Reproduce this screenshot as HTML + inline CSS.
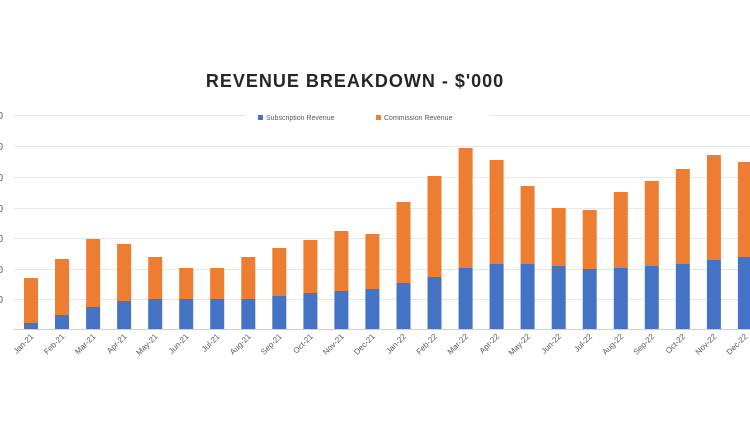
<!DOCTYPE html><html><head><style>body{margin:0;background:#fff}svg{display:block;font-family:"Liberation Sans",sans-serif}</style></head><body>
<svg width="750" height="430" xmlns="http://www.w3.org/2000/svg">
<rect width="750" height="430" fill="#fff"/>
<text x="355" y="87" text-anchor="middle" font-size="18" font-weight="bold" fill="#262626" letter-spacing="1">REVENUE BREAKDOWN - $'000</text>
<g stroke="#e6e6e6" stroke-width="1">
<line x1="14" x2="245" y1="115.5" y2="115.5"/><line x1="490" x2="750" y1="115.5" y2="115.5"/>
<line x1="14" x2="750" y1="146.5" y2="146.5"/><line x1="14" x2="750" y1="177.5" y2="177.5"/>
<line x1="14" x2="750" y1="208.5" y2="208.5"/><line x1="14" x2="750" y1="238.5" y2="238.5"/>
<line x1="14" x2="750" y1="269.5" y2="269.5"/><line x1="14" x2="750" y1="299.5" y2="299.5"/>
<line x1="14" x2="750" y1="329.5" y2="329.5" stroke="#d0d0d0"/>
</g>
<g font-size="10" fill="#595959" text-anchor="end">
<text x="3" y="119">0</text><text x="3" y="150">0</text><text x="3" y="181">0</text><text x="3" y="212">0</text><text x="3" y="242">0</text><text x="3" y="273">0</text><text x="3" y="303">0</text>
</g>
<rect x="258" y="115" width="5" height="5" fill="#4472c4"/><text x="266" y="120" font-size="7" fill="#595959">Subscription Revenue</text>
<rect x="376" y="115" width="5" height="5" fill="#ed7d31"/><text x="384" y="120" font-size="7" fill="#595959">Commission Revenue</text>
<g fill="#ed7d31">
<rect x="24" y="278" width="14" height="45"/>
<rect x="55" y="259" width="14" height="56"/>
<rect x="86.1" y="239" width="14" height="68"/>
<rect x="117.1" y="244" width="14" height="57"/>
<rect x="148.2" y="257" width="14" height="42"/>
<rect x="179.2" y="268" width="14" height="31"/>
<rect x="210.2" y="268" width="14" height="31"/>
<rect x="241.3" y="257" width="14" height="42"/>
<rect x="272.3" y="248" width="14" height="48"/>
<rect x="303.4" y="240" width="14" height="53"/>
<rect x="334.4" y="231" width="14" height="60"/>
<rect x="365.4" y="234" width="14" height="55"/>
<rect x="396.5" y="202" width="14" height="81"/>
<rect x="427.5" y="176" width="14" height="101"/>
<rect x="458.6" y="148" width="14" height="120"/>
<rect x="489.6" y="160" width="14" height="104"/>
<rect x="520.6" y="186" width="14" height="78"/>
<rect x="551.7" y="208" width="14" height="58"/>
<rect x="582.7" y="210" width="14" height="59"/>
<rect x="613.8" y="192" width="14" height="76"/>
<rect x="644.8" y="181" width="14" height="85"/>
<rect x="675.8" y="169" width="14" height="95"/>
<rect x="706.9" y="155" width="14" height="105"/>
<rect x="737.9" y="162" width="14" height="95"/>
</g>
<g fill="#4472c4">
<rect x="24" y="323" width="14" height="6"/>
<rect x="55" y="315" width="14" height="14"/>
<rect x="86.1" y="307" width="14" height="22"/>
<rect x="117.1" y="301" width="14" height="28"/>
<rect x="148.2" y="299" width="14" height="30"/>
<rect x="179.2" y="299" width="14" height="30"/>
<rect x="210.2" y="299" width="14" height="30"/>
<rect x="241.3" y="299" width="14" height="30"/>
<rect x="272.3" y="296" width="14" height="33"/>
<rect x="303.4" y="293" width="14" height="36"/>
<rect x="334.4" y="291" width="14" height="38"/>
<rect x="365.4" y="289" width="14" height="40"/>
<rect x="396.5" y="283" width="14" height="46"/>
<rect x="427.5" y="277" width="14" height="52"/>
<rect x="458.6" y="268" width="14" height="61"/>
<rect x="489.6" y="264" width="14" height="65"/>
<rect x="520.6" y="264" width="14" height="65"/>
<rect x="551.7" y="266" width="14" height="63"/>
<rect x="582.7" y="269" width="14" height="60"/>
<rect x="613.8" y="268" width="14" height="61"/>
<rect x="644.8" y="266" width="14" height="63"/>
<rect x="675.8" y="264" width="14" height="65"/>
<rect x="706.9" y="260" width="14" height="69"/>
<rect x="737.9" y="257" width="14" height="72"/>
</g>
<g font-size="8" fill="#595959" text-anchor="end">
<text transform="translate(34,337) rotate(-45)">Jan-21</text>
<text transform="translate(65,337) rotate(-45)">Feb-21</text>
<text transform="translate(96.1,337) rotate(-45)">Mar-21</text>
<text transform="translate(127.1,337) rotate(-45)">Apr-21</text>
<text transform="translate(158.2,337) rotate(-45)">May-21</text>
<text transform="translate(189.2,337) rotate(-45)">Jun-21</text>
<text transform="translate(220.2,337) rotate(-45)">Jul-21</text>
<text transform="translate(251.3,337) rotate(-45)">Aug-21</text>
<text transform="translate(282.3,337) rotate(-45)">Sep-21</text>
<text transform="translate(313.4,337) rotate(-45)">Oct-21</text>
<text transform="translate(344.4,337) rotate(-45)">Nov-21</text>
<text transform="translate(375.4,337) rotate(-45)">Dec-21</text>
<text transform="translate(406.5,337) rotate(-45)">Jan-22</text>
<text transform="translate(437.5,337) rotate(-45)">Feb-22</text>
<text transform="translate(468.6,337) rotate(-45)">Mar-22</text>
<text transform="translate(499.6,337) rotate(-45)">Apr-22</text>
<text transform="translate(530.6,337) rotate(-45)">May-22</text>
<text transform="translate(561.7,337) rotate(-45)">Jun-22</text>
<text transform="translate(592.7,337) rotate(-45)">Jul-22</text>
<text transform="translate(623.8,337) rotate(-45)">Aug-22</text>
<text transform="translate(654.8,337) rotate(-45)">Sep-22</text>
<text transform="translate(685.8,337) rotate(-45)">Oct-22</text>
<text transform="translate(716.9,337) rotate(-45)">Nov-22</text>
<text transform="translate(747.9,337) rotate(-45)">Dec-22</text>
</g>
</svg></body></html>
